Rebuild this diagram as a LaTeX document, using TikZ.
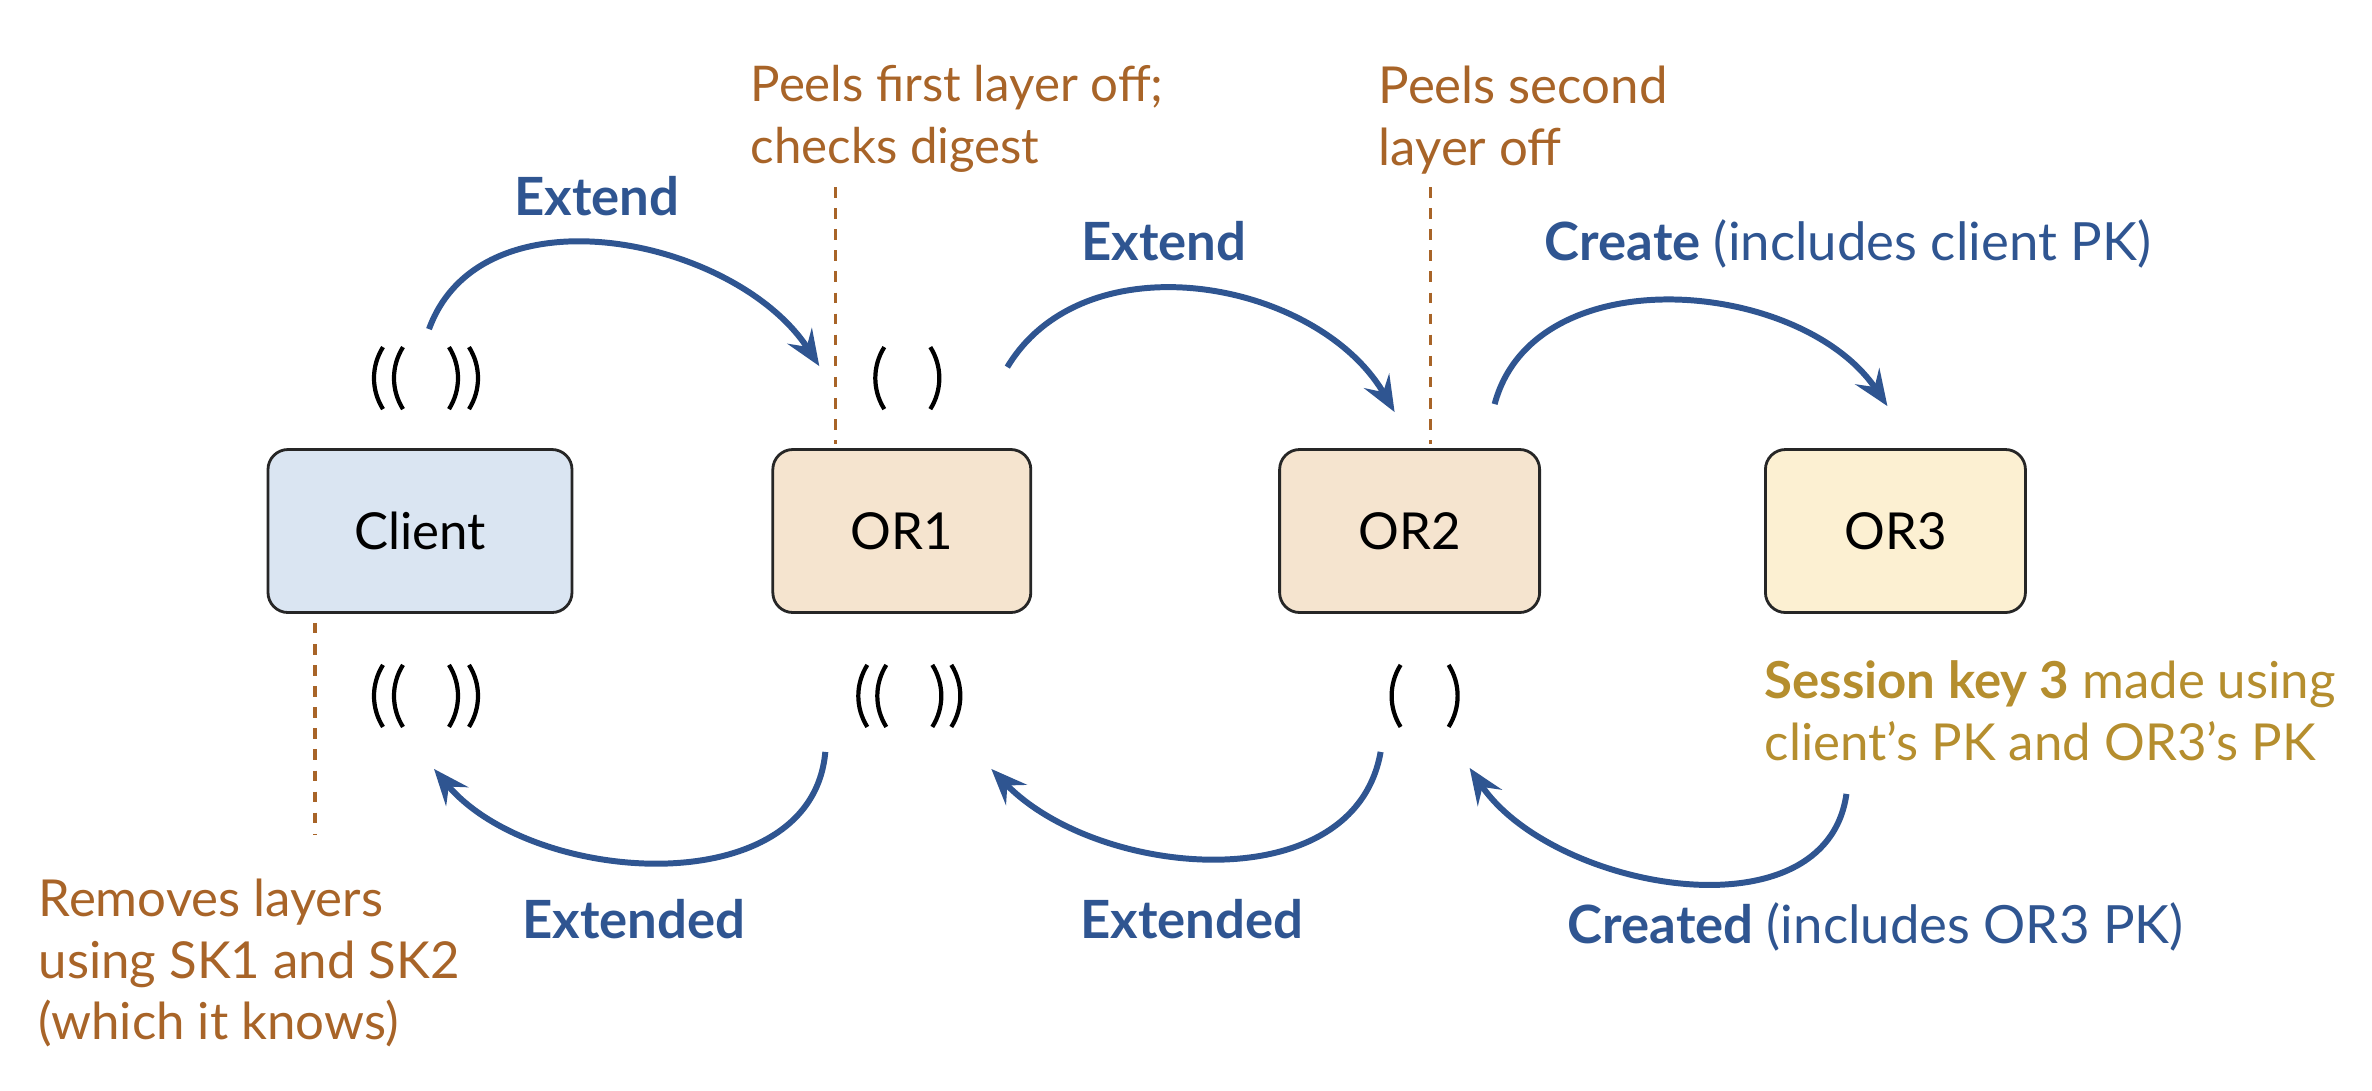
\documentclass[tikz,border=0pt]{standalone}
\usepackage{fontspec}
\setmainfont{Lato}
\usetikzlibrary{arrows.meta, calc, positioning}

\definecolor{flowblue}{HTML}{2F5591}
\definecolor{notebrown}{HTML}{A86428}
\definecolor{keygold}{HTML}{B58E2E}
\definecolor{clientfill}{HTML}{DAE5F2}
\definecolor{relayfill}{HTML}{F5E4CF}
\definecolor{exitfill}{HTML}{FCF0D2}

\tikzset{
  pics/shell/.style = {code={
      \draw[layer] (-#1+0.09,0.31) .. controls (-#1-0.03,0.12) and (-#1-0.03,-0.12) .. (-#1+0.09,-0.31);
      \draw[layer] (#1-0.09,0.31) .. controls (#1+0.03,0.12) and (#1+0.03,-0.12) .. (#1-0.09,-0.31);
  }},
}

\begin{document}
\begin{tikzpicture}[
every node/.style = {font=\fontsize{14.5}{17.6}\selectfont},
box/.style = {draw=black!85, line width=0.8pt, rounded corners=2mm,
              minimum width=26mm, minimum height=16.3mm},
msg/.style = {text=flowblue, anchor=base, font=\fontsize{15}{18}\selectfont},
note/.style = {text=notebrown, align=left, anchor=north west, inner sep=0pt},
lead/.style = {color=notebrown, line width=1pt, dash pattern=on 3pt off 3pt},
flow/.style = {color=flowblue, line width=1.7pt,
               -{Stealth[length=3.6mm, width=2.9mm, inset=1.3mm]}},
layer/.style = {line width=1.2pt},
                    ]
%---
\useasboundingbox (0,0) rectangle (23.72,-10.90);

\node (client) [box, fill=clientfill, minimum width=30.4mm] at (4.20,-5.31) {Client};
\node (or1) [box, fill=relayfill, minimum width=25.8mm, right=19.8mm of client] {OR1};
\node (or2) [box, fill=relayfill, right=24.6mm of or1] {OR2};
\node (or3) [box, fill=exitfill, right=22.3mm of or2] {OR3};

% layers of the onion
\coordinate (client_up)  at ($(client.north)+(0.06,0.70)$);
\coordinate (client_dn)  at ($(client.south)+(0.06,-0.82)$);
\coordinate (or1_up)     at ($(or1.north)+(0.055,0.70)$);
\coordinate (or1_dn)     at ($(or1.south)+(0.075,-0.82)$);
\coordinate (or2_dn)     at ($(or2.south)+(0.15,-0.82)$);
\pic at (client_up) {shell=0.32};
\pic at (client_up) {shell=0.52};
\pic at (client_dn) {shell=0.32};
\pic at (client_dn) {shell=0.52};
\pic at (or1_up)    {shell=0.32};
\pic at (or1_dn)    {shell=0.32};
\pic at (or1_dn)    {shell=0.51};
\pic at (or2_dn)    {shell=0.33};

% notes
\node (peel1) [note, font=\fontsize{14}{17.6}\selectfont] at (7.50,-0.65)
        {Peels first layer off;\\checks digest};
\node (peel2) [note] at (13.78,-0.65) {Peels second\\layer off};
\node (remove) [note] at (0.38,-8.78) {Removes layers\\using SK1 and SK2\\(which it knows)};
\node (session) [note, text=keygold] at (17.64,-6.60)
        {\textbf{Session key 3} made using\\client’s PK and OR3’s PK};

\coordinate (p1a) at ($(or1.north)+(-0.665,2.61)$);
\coordinate (p1b) at ($(or1.north)+(-0.665,0.04)$);
\coordinate (p2a) at ($(or2.north)+(0.21,2.61)$);
\coordinate (p2b) at ($(or2.north)+(0.21,0.04)$);
\coordinate (p3a) at ($(client.south)+(-1.05,-0.09)$);
\coordinate (p3b) at ($(client.south)+(-1.05,-2.21)$);
\path[lead] (p1a) edge (p1b)
            (p2a) edge (p2b)
            (p3a) edge (p3b);

% messages
\coordinate (x1s) at ($(client.north)+(0.09,1.19)$);
\coordinate (x1e) at ($(or1.north)+(-0.825,0.82)$);
\coordinate (x2s) at ($(or1.north)+(1.055,0.81)$);
\coordinate (x2e) at ($(or2.north)+(-0.15,0.36)$);
\coordinate (x3s) at ($(or2.north)+(0.85,0.44)$);
\coordinate (x3e) at ($(or3.north)+(-0.08,0.42)$);
\coordinate (y1s) at ($(or1.south)+(-0.765,-1.38)$);
\coordinate (y1e) at ($(client.south)+(0.14,-1.55)$);
\coordinate (y2s) at ($(or2.south)+(-0.29,-1.38)$);
\coordinate (y2e) at ($(or1.south)+(0.895,-1.55)$);
\coordinate (y3s) at ($(or3.south)+(-0.49,-1.80)$);
\coordinate (y3e) at ($(or2.south)+(0.60,-1.54)$);

\path[flow]
        (x1s) edge[out=70, in=123]   (x1e)
        (x2s) edge[out=59, in=120]   (x2e)
        (x3s) edge[out=75, in=124]   (x3e)
        (y1s) edge[out=-95, in=-50]  (y1e)
        (y2s) edge[out=-100, in=-46] (y2e)
        (y3s) edge[out=-98, in=-56]  (y3e);

\node (ext1) [msg] at (5.97,-2.15) {\textbf{Extend}};
\node (ext2) [msg] at (11.64,-2.60) {\textbf{Extend}};
\node (create) [msg, anchor=base west, inner xsep=0pt] at (15.44,-2.60)
        {\textbf{Create} (includes client PK)};
\node (extd1) [msg] at (6.34,-9.38) {\textbf{Extended}};
\node (extd2) [msg] at (11.92,-9.38) {\textbf{Extended}};
\node (created) [msg, anchor=base west, inner xsep=0pt] at (15.67,-9.43)
        {\textbf{Created} (includes OR3 PK)};
\end{tikzpicture}
\end{document}
